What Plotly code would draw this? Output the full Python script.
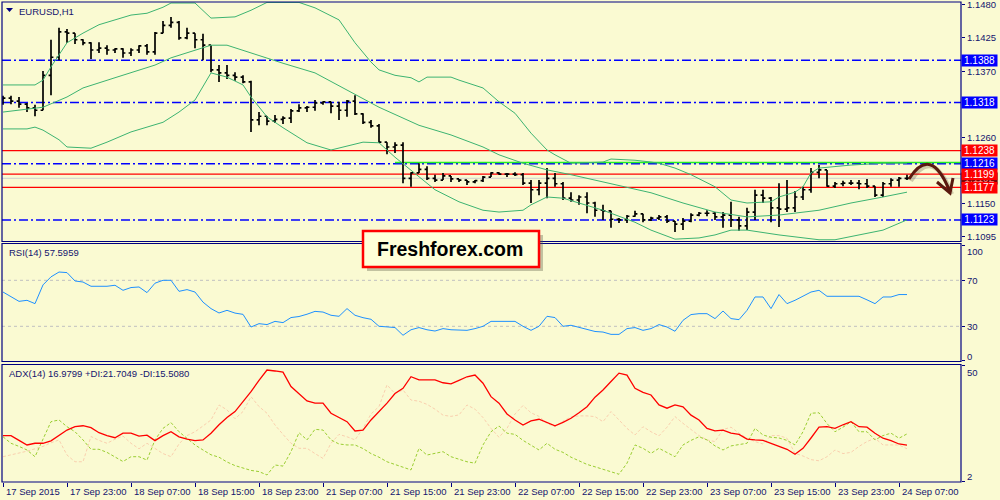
import plotly.graph_objects as go

# ---------------- DATA ----------------
bars = list(range(114))  # hourly bars, 17 Sep 2015 15:00 ... 24 Sep 2015 08:00

opens = [1.1322,1.1325,1.1320,1.1315,1.1309,1.1305,1.1363,1.1393,1.1435,1.1433,
 1.1422,1.1417,1.1405,1.1408,1.1405,1.1407,1.1400,1.1405,1.1412,1.1402,
 1.1433,1.1446,1.1451,1.1425,1.1433,1.1422,1.1413,1.1372,1.1367,1.1363,
 1.1360,1.1352,1.1289,1.1295,1.1287,1.1290,1.1292,1.1304,1.1309,1.1310,
 1.1317,1.1319,1.1312,1.1305,1.1320,1.1299,1.1285,1.1279,1.1252,1.1244,
 1.1247,1.1192,1.1201,1.1207,1.1192,1.1189,1.1196,1.1191,1.1189,1.1186,
 1.1188,1.1194,1.1201,1.1199,1.1199,1.1198,1.1184,1.1173,1.1184,1.1192,
 1.1183,1.1159,1.1156,1.1161,1.1151,1.1139,1.1138,1.1124,1.1123,1.1129,
 1.1133,1.1123,1.1126,1.1128,1.1121,1.1116,1.1121,1.1131,1.1134,1.1134,
 1.1128,1.1131,1.1123,1.1113,1.1136,1.1164,1.1159,1.1143,1.1141,1.1143,
 1.1161,1.1173,1.1202,1.1206,1.1179,1.1183,1.1184,1.1184,1.1183,1.1179,
 1.1164,1.1183,1.1189,1.1192]
highs = [1.1329,1.1329,1.1327,1.1317,1.1314,1.1370,1.1422,1.1442,1.1440,1.1433,
 1.1423,1.1418,1.1418,1.1413,1.1408,1.1408,1.1408,1.1413,1.1415,1.1435,
 1.1453,1.1460,1.1453,1.1442,1.1433,1.1432,1.1413,1.1380,1.1380,1.1368,
 1.1363,1.1354,1.1302,1.1295,1.1297,1.1295,1.1307,1.1315,1.1312,1.1322,
 1.1320,1.1319,1.1319,1.1322,1.1330,1.1300,1.1289,1.1282,1.1252,1.1252,
 1.1252,1.1202,1.1217,1.1212,1.1198,1.1201,1.1196,1.1191,1.1189,1.1189,
 1.1196,1.1202,1.1202,1.1201,1.1202,1.1201,1.1189,1.1189,1.1209,1.1201,
 1.1186,1.1169,1.1164,1.1169,1.1153,1.1148,1.1138,1.1126,1.1131,1.1138,
 1.1133,1.1128,1.1131,1.1131,1.1121,1.1126,1.1134,1.1136,1.1139,1.1136,
 1.1136,1.1153,1.1128,1.1143,1.1173,1.1173,1.1161,1.1184,1.1189,1.1171,
 1.1178,1.1209,1.1214,1.1206,1.1186,1.1188,1.1189,1.1189,1.1191,1.1179,
 1.1186,1.1192,1.1194,1.1198]
lows = [1.1314,1.1315,1.1309,1.1302,1.1295,1.1305,1.1330,1.1388,1.1417,1.1415,
 1.1413,1.1390,1.1400,1.1397,1.1400,1.1392,1.1395,1.1400,1.1397,1.1397,
 1.1433,1.1442,1.1422,1.1423,1.1408,1.1388,1.1368,1.1352,1.1357,1.1354,
 1.1350,1.1269,1.1280,1.1280,1.1284,1.1282,1.1284,1.1302,1.1302,1.1304,
 1.1314,1.1300,1.1289,1.1294,1.1297,1.1282,1.1276,1.1251,1.1232,1.1234,
 1.1184,1.1178,1.1201,1.1189,1.1186,1.1189,1.1186,1.1186,1.1181,1.1184,
 1.1186,1.1194,1.1198,1.1194,1.1196,1.1181,1.1151,1.1164,1.1159,1.1178,
 1.1156,1.1153,1.1148,1.1134,1.1128,1.1123,1.1110,1.1118,1.1118,1.1128,
 1.1119,1.1121,1.1123,1.1118,1.1103,1.1106,1.1119,1.1129,1.1129,1.1123,
 1.1110,1.1111,1.1105,1.1106,1.1123,1.1151,1.1119,1.1111,1.1136,1.1136,
 1.1156,1.1168,1.1192,1.1178,1.1176,1.1179,1.1181,1.1174,1.1176,1.1161,
 1.1161,1.1178,1.1178,1.1189]
closes = [1.1325,1.1320,1.1315,1.1309,1.1305,1.1363,1.1393,1.1435,1.1433,1.1422,
 1.1417,1.1405,1.1408,1.1405,1.1407,1.1400,1.1405,1.1412,1.1402,1.1433,
 1.1446,1.1451,1.1425,1.1433,1.1422,1.1413,1.1372,1.1367,1.1363,1.1360,
 1.1352,1.1289,1.1295,1.1287,1.1290,1.1292,1.1304,1.1309,1.1310,1.1317,
 1.1319,1.1312,1.1305,1.1320,1.1299,1.1285,1.1279,1.1252,1.1244,1.1247,
 1.1192,1.1201,1.1207,1.1192,1.1189,1.1196,1.1191,1.1189,1.1186,1.1188,
 1.1194,1.1201,1.1199,1.1199,1.1198,1.1184,1.1173,1.1184,1.1192,1.1183,
 1.1159,1.1156,1.1161,1.1151,1.1139,1.1138,1.1124,1.1123,1.1129,1.1133,
 1.1123,1.1126,1.1128,1.1121,1.1116,1.1121,1.1131,1.1134,1.1134,1.1128,
 1.1131,1.1123,1.1113,1.1136,1.1164,1.1159,1.1143,1.1141,1.1143,1.1161,
 1.1173,1.1202,1.1206,1.1179,1.1183,1.1184,1.1184,1.1183,1.1179,1.1164,
 1.1183,1.1189,1.1192,1.1192]

# Bollinger bands (read at selected bars)
bb_upper_bars = [0,4,5,6,8,10,12,14,16,18,20,21,24,26,29,31,33,37,39,42,44,46,47,49,51,52,53,56,57,60,
                 62,64,66,68,69,71,75,76,79,81,82,84,86,89,91,93,96,97,99,100,101,102,106,110,113]
bb_upper = [1.1347,1.1347,1.1355,1.1377,1.1417,1.1433,1.1447,1.1455,1.1463,1.1466,1.1476,1.1483,1.1483,
            1.1458,1.1460,1.1471,1.1484,1.1484,1.1475,1.1455,1.1417,1.1385,1.1372,1.1363,1.1359,1.1352,
            1.1360,1.1360,1.1355,1.1342,1.1319,1.1300,1.1267,1.1239,1.1231,1.1217,1.1219,1.1224,1.1222,
            1.1219,1.1217,1.1209,1.1198,1.1178,1.1156,1.1151,1.1153,1.1161,1.1169,1.1178,1.1201,1.1209,
            1.1214,1.1217,1.1217]
bb_mid_bars = [0,4,5,8,10,14,17,19,21,24,26,28,31,35,39,43,47,52,56,60,62,65,68,71,75,81,85,89,93,97,
               102,106,110,113]
bb_mid = [1.1302,1.1309,1.1310,1.1327,1.1342,1.1359,1.1372,1.1380,1.1392,1.1405,1.1413,1.1413,1.1400,
          1.1383,1.1367,1.1339,1.1310,1.1280,1.1264,1.1244,1.1231,1.1217,1.1206,1.1198,1.1186,1.1168,
          1.1151,1.1136,1.1128,1.1131,1.1139,1.1151,1.1161,1.1169]
bb_lower_bars = [0,3,4,5,7,8,11,13,16,20,22,24,26,28,30,31,33,35,38,41,45,47,49,52,54,57,60,62,65,66,
                 68,70,72,75,79,81,84,87,89,91,93,97,102,104,107,110,113]
bb_lower = [1.1274,1.1274,1.1277,1.1272,1.1256,1.1244,1.1242,1.1252,1.1269,1.1285,1.1302,1.1322,1.1367,
            1.1360,1.1347,1.1327,1.1294,1.1276,1.1251,1.1239,1.1252,1.1251,1.1227,1.1194,1.1173,1.1153,
            1.1139,1.1136,1.1139,1.1148,1.1161,1.1159,1.1151,1.1139,1.1119,1.1106,1.1091,1.1093,1.1098,
            1.1106,1.1106,1.1098,1.1090,1.1090,1.1098,1.1106,1.1123]

rsi = [59.8,55.5,51.7,52.6,49.7,66,73,77.2,76.7,69.4,68.5,64.8,64.8,64.8,65.7,61.3,63.7,64.2,59.3,67.5,
       70,70,60.4,61.9,59.8,51,45.4,41.6,43.9,41.5,40.4,29.4,32.3,31.5,34.3,33.2,37.6,38.5,40.5,43.0,
       42.4,39.6,38.7,45.4,39.6,37.5,36.1,30.0,29.5,28.9,22.2,27,28.9,27,25.9,28.0,27,26.5,26.5,28,
       30.0,34.3,34.3,34.3,34.3,30.0,26.5,30.0,38.7,37.6,30.0,30.9,29,27.5,25.5,25.0,23.0,23.0,28.0,28.9,
       26.5,28.0,31.5,29.4,25.7,35.2,40.2,41.0,41.0,36.7,43.3,36.7,35.8,43.9,55.5,55.5,45.4,57.6,49.7,52.6,
       56.1,59.8,61.3,56.1,56.1,56.1,56.1,56.1,53,49.7,55.5,55.5,57.6,57.6]

adx = [21.0,21.0,19,17.1,17.8,17.8,18.8,21,23.3,24.7,25.1,24.3,22.2,21,20.1,22.0,22.0,20.8,21.2,18.9,
       21,22.6,20.5,19.5,18.9,19.2,22,25.5,28.5,31.0,35,39.3,44,48.3,47.9,47.4,41.4,38.5,35.4,34.5,
       34.5,30.3,28.5,26.8,22.9,23.3,27.5,31,34.5,38.5,40.7,45.5,44.2,44.2,44.2,43,42.5,44,45.5,46.2,
       42.8,37.2,34.5,30,27.5,25.4,27.1,27.8,26.5,25.1,26.5,28.2,30.5,33,37,40.0,43.5,47.0,46.2,40.7,
       39,37.9,33.8,32.4,33.8,33.0,29.5,27.5,24.0,23.0,23.3,22.0,21.5,19.5,19.2,19.0,17.8,16.5,15.3,13.2,
       15.7,20,24.5,24.7,24.0,25.5,26.8,24.7,24.5,22,19.9,18.9,17.5,17.0]
plus_di = [20.5,17.8,16.5,15,12.2,19.2,26.8,27.5,24.7,22.6,19.2,15.3,15.3,14,12.2,10.2,12.2,12.2,10.8,19.2,
           24,26.4,22.6,20,17.1,15,13,12,10,8.5,7.4,6.5,6,4.6,8.75,8.3,14.3,22.2,19.2,23.6,
           23.3,19.2,17.5,17.1,17.1,15.6,13.5,12,10.1,9,8,6.7,15.7,12.9,13.6,14.3,12.2,11,10.1,9.5,
           17.1,22.6,25,22,21.5,19,17.1,15,17.8,15.3,14,12,10.5,9,8,7,6,4.9,9.5,17.1,
           15.7,13.6,15.7,14,12.2,17.1,19,20.5,19.2,16.7,15,16.7,17.3,17.8,24,21.25,20.3,20,19,17.1,
           22.6,30.3,30.5,26,22.6,24.5,26.8,22.6,22.6,19.2,21,22,19.9,21.7]
minus_di = [12.2,12.9,13.5,14.5,15.5,16.5,18,19.2,12.9,10.1,10.1,20.6,19,17.8,19.5,20.8,17.8,15.5,17.8,15.7,
            13.5,12.2,17.5,21,22.6,25,27.5,33.75,31.7,28,31,37.2,33.1,30.3,25.4,21.5,17.8,15.7,15.7,13.5,
            11.5,17.8,21.5,20.5,19.2,24,30,33.1,42.1,38.5,40,35.8,35.3,34,32,29.5,29,29.6,33.75,32,
            28.5,24,20.3,24,30,33.5,30.5,29,26.1,24.7,27,28.8,29.2,29.2,28.9,26.8,31,27.5,24,21.25,
            24.7,22.6,20.9,24.5,28.9,26.1,23.5,21,19.2,18.5,23.5,24.5,22,19.9,18.5,17.5,21,21,19.9,13.6,
            12.5,11,10.5,12.2,15,13.5,14,16.5,18.5,19.9,17.1,17.1,17.1,15.5]

blue_levels = [1.1388, 1.1318, 1.1216, 1.1123]
red_levels = [1.1238, 1.1199, 1.1177]
current_price = 1.1192
green_level = 1.12183
green_start_bar = 49

price_ticks = [1.1480, 1.1425, 1.1370, 1.1260, 1.1150, 1.1095]
price_tick_text = ["1.1480", "1.1425", "1.1370", "1.1260", "1.1150", "1.1095"]
rsi_levels = [70, 30]
rsi_ticks = [100, 70, 30, 0]
adx_ticks = [50, 2]
date_tick_bars = [0, 8, 16, 24, 32, 40, 48, 56, 64, 72, 80, 88, 96, 104, 112]
date_tick_text = ["17 Sep 2015", "17 Sep 23:00", "18 Sep 07:00", "18 Sep 15:00", "18 Sep 23:00",
                  "21 Sep 07:00", "21 Sep 15:00", "21 Sep 23:00", "22 Sep 07:00", "22 Sep 15:00",
                  "22 Sep 23:00", "23 Sep 07:00", "23 Sep 15:00", "23 Sep 23:00", "24 Sep 07:00"]

# ---------------- STYLE ----------------
W, H = 1000, 500
BG = "#fafad2"
NAVY = "#000080"
TXT = "#14146e"
FONT = "Liberation Sans"
BAND = "#3cb371"


def X(p):
    return p / W


def Y(p):
    return 1 - p / H


fig = go.Figure()

fig.add_trace(go.Ohlc(x=bars, open=opens, high=highs, low=lows, close=closes,
                      increasing=dict(line=dict(color="black", width=1.7)),
                      decreasing=dict(line=dict(color="black", width=1.7)),
                      tickwidth=0.3, xaxis="x", yaxis="y", hoverinfo="skip", showlegend=False))
for bx, by in [(bb_upper_bars, bb_upper), (bb_mid_bars, bb_mid), (bb_lower_bars, bb_lower)]:
    fig.add_trace(go.Scatter(x=bx, y=by, mode="lines", line=dict(color=BAND, width=1),
                             xaxis="x", yaxis="y", hoverinfo="skip", showlegend=False))

fig.add_trace(go.Scatter(x=bars, y=rsi, mode="lines", line=dict(color="#1e90ff", width=1),
                         xaxis="x2", yaxis="y2", hoverinfo="skip", showlegend=False))

fig.add_trace(go.Scatter(x=bars, y=minus_di, mode="lines", line=dict(color="#f9cfae", width=1, dash="3px,2px"),
                         xaxis="x3", yaxis="y3", hoverinfo="skip", showlegend=False))
fig.add_trace(go.Scatter(x=bars, y=plus_di, mode="lines", line=dict(color="#9acd32", width=1, dash="3px,2px"),
                         xaxis="x3", yaxis="y3", hoverinfo="skip", showlegend=False))
fig.add_trace(go.Scatter(x=bars, y=adx, mode="lines", line=dict(color="#ff0000", width=1.3),
                         xaxis="x3", yaxis="y3", hoverinfo="skip", showlegend=False))

xr = [-0.125, 119.75]
xdom = [X(2), X(961)]
common_x = dict(range=xr, domain=xdom, showgrid=False, zeroline=False, showticklabels=False,
                fixedrange=True, rangeslider=dict(visible=False))
common_y = dict(side="right", showgrid=False, zeroline=False, ticks="outside", ticklen=3,
                tickcolor=NAVY, showline=False, fixedrange=True)

shapes = []
# horizontal levels (below bars)
for lv in blue_levels:
    shapes.append(dict(type="line", xref="x domain", yref="y", x0=0, x1=1, y0=lv, y1=lv,
                       line=dict(color="#0000ff", width=1.5, dash="9px,3px,2px,3px"), layer="below"))
for lv in red_levels:
    shapes.append(dict(type="line", xref="x domain", yref="y", x0=0, x1=1, y0=lv, y1=lv,
                       line=dict(color="#ff0000", width=1.3), layer="below"))
shapes.append(dict(type="line", xref="x domain", yref="y", x0=0, x1=1, y0=current_price, y1=current_price,
                   line=dict(color="#d8d8d0", width=1.3), layer="below"))
shapes.append(dict(type="line", xref="x", yref="y", x0=green_start_bar, x1=xr[1], y0=green_level, y1=green_level,
                   line=dict(color="#22ee22", width=1.5), layer="below"))
for lv in rsi_levels:
    shapes.append(dict(type="line", xref="x2 domain", yref="y2", x0=0, x1=1, y0=lv, y1=lv,
                       line=dict(color="#c0c0c0", width=1, dash="3px,3px"), layer="below"))
# panel frames
for xd, yd in [("x domain", "y domain"), ("x2 domain", "y2 domain"), ("x3 domain", "y3 domain")]:
    shapes.append(dict(type="rect", xref=xd, yref=yd, x0=0, x1=1, y0=0, y1=1,
                       line=dict(color=NAVY, width=1.2), layer="above"))
# title triangle
shapes.append(dict(type="path", xref="paper", yref="paper",
                   path=f"M {X(6)},{Y(8)} L {X(13)},{Y(8)} L {X(9.5)},{Y(12)} Z",
                   fillcolor=NAVY, line=dict(width=0), layer="above"))
# watermark box
shapes.append(dict(type="rect", xref="paper", yref="paper", x0=X(367), x1=X(543), y0=Y(271), y1=Y(235),
                   fillcolor="rgba(90,90,70,0.35)", line=dict(width=0), layer="above"))
shapes.append(dict(type="rect", xref="paper", yref="paper", x0=X(363), x1=X(539), y0=Y(267), y1=Y(231),
                   fillcolor="#ffffd8", line=dict(color="#ff0000", width=2.5), layer="above"))
# hand-drawn forecast arrow
ARROW = "#5a1a0f"
shapes.append(dict(type="path", xref="paper", yref="paper",
                   path=f"M {X(911)},{Y(181)} Q {X(933)},{Y(146)} {X(952)},{Y(194)}",
                   line=dict(color="rgba(80,60,40,0.25)", width=4), layer="above"))
shapes.append(dict(type="path", xref="paper", yref="paper",
                   path=f"M {X(909)},{Y(179)} Q {X(931)},{Y(144)} {X(950)},{Y(192)}",
                   line=dict(color=ARROW, width=3), layer="above"))
shapes.append(dict(type="path", xref="paper", yref="paper",
                   path=f"M {X(937)},{Y(182)} L {X(950)},{Y(193)} L {X(953)},{Y(178)}",
                   line=dict(color=ARROW, width=3), layer="above"))

annotations = []
annotations.append(dict(text="EURUSD,H1", xref="paper", yref="paper", x=X(17), y=Y(11), xanchor="left",
                        yanchor="middle", showarrow=False, font=dict(family=FONT, size=9.5, color=TXT)))
annotations.append(dict(text="RSI(14) 57.5959", xref="paper", yref="paper", x=X(7), y=Y(252), xanchor="left",
                        yanchor="middle", showarrow=False, font=dict(family=FONT, size=9.5, color=TXT)))
annotations.append(dict(text="ADX(14) 16.9799 +DI:21.7049 -DI:15.5080", xref="paper", yref="paper",
                        x=X(7), y=Y(373), xanchor="left", yanchor="middle", showarrow=False,
                        font=dict(family=FONT, size=9.5, color=TXT)))
# price scale labels
for val, txt in zip(price_ticks, price_tick_text):
    annotations.append(dict(text=txt, xref="paper", yref="y", x=X(965), y=val, xanchor="left",
                            yanchor="middle", showarrow=False, font=dict(family=FONT, size=9.5, color=TXT)))
# RSI / ADX scale labels
for val, py in zip(rsi_ticks, [251, 280, 326, 356]):
    annotations.append(dict(text=str(val), xref="paper", yref="paper", x=X(965), y=Y(py), xanchor="left",
                            yanchor="middle", showarrow=False, font=dict(family=FONT, size=9.5, color=TXT)))
for val, py in zip(adx_ticks, [372, 476]):
    annotations.append(dict(text=str(val), xref="paper", yref="paper", x=X(965), y=Y(py), xanchor="left",
                            yanchor="middle", showarrow=False, font=dict(family=FONT, size=9.5, color=TXT)))
# date labels
for b, t in zip(date_tick_bars, date_tick_text):
    annotations.append(dict(text=t, xref="x3", yref="paper", x=b, y=Y(491), xanchor="left", xshift=1,
                            yanchor="middle", showarrow=False, font=dict(family=FONT, size=9.5, color=TXT)))


# level boxes on the price scale
def level_box(lv, color):
    return dict(text=f"{lv:.4f}", xref="paper", yref="y", x=X(961), y=lv, xanchor="left", yanchor="middle",
                showarrow=False, bgcolor=color, width=33, height=9, borderpad=1, align="center",
                font=dict(family=FONT, size=10, color="white"))


annotations.append(level_box(blue_levels[0], "#0000ff"))
annotations.append(level_box(blue_levels[1], "#0000ff"))
annotations.append(level_box(red_levels[0], "#ff0000"))
annotations.append(level_box(blue_levels[2], "#0000ff"))
annotations.append(level_box(current_price, "#000000"))
annotations.append(level_box(red_levels[1], "#ff0000"))
annotations.append(level_box(red_levels[2], "#ff0000"))
annotations.append(level_box(blue_levels[3], "#0000ff"))
# watermark text
annotations.append(dict(text="<b>Freshforex.com</b>", xref="paper", yref="paper", x=X(450), y=Y(249),
                        xanchor="center", yanchor="middle", showarrow=False,
                        font=dict(family=FONT, size=19.5, color="black")))

fig.update_layout(
    width=W, height=H, margin=dict(l=0, r=0, t=0, b=0),
    paper_bgcolor=BG, plot_bgcolor=BG, showlegend=False, hovermode=False,
    xaxis=dict(anchor="y", **common_x),
    xaxis2=dict(anchor="y2", matches="x", **common_x),
    xaxis3=dict(anchor="y3", matches="x", ticks="outside", ticklen=4, tickcolor=NAVY,
                tickvals=date_tick_bars, **common_x),
    yaxis=dict(anchor="x", domain=[Y(241.5), Y(2)], range=[1.10871, 1.14847],
               tickvals=price_ticks, showticklabels=False, **common_y),
    yaxis2=dict(anchor="x2", domain=[Y(361.5), Y(243.5)], range=[-0.6, 102.0],
                tickvals=rsi_ticks, showticklabels=False, **common_y),
    yaxis3=dict(anchor="x3", domain=[Y(482), Y(364.5)], range=[1.67, 50.6],
                tickvals=adx_ticks, showticklabels=False, **common_y),
    shapes=shapes, annotations=annotations,
)

fig.write_html("out.html", config={"displayModeBar": False},
               post_script="document.body.style.margin='0';document.body.style.padding='0';"
                           "document.body.style.overflow='hidden';"
                           "document.documentElement.style.overflow='hidden';")
